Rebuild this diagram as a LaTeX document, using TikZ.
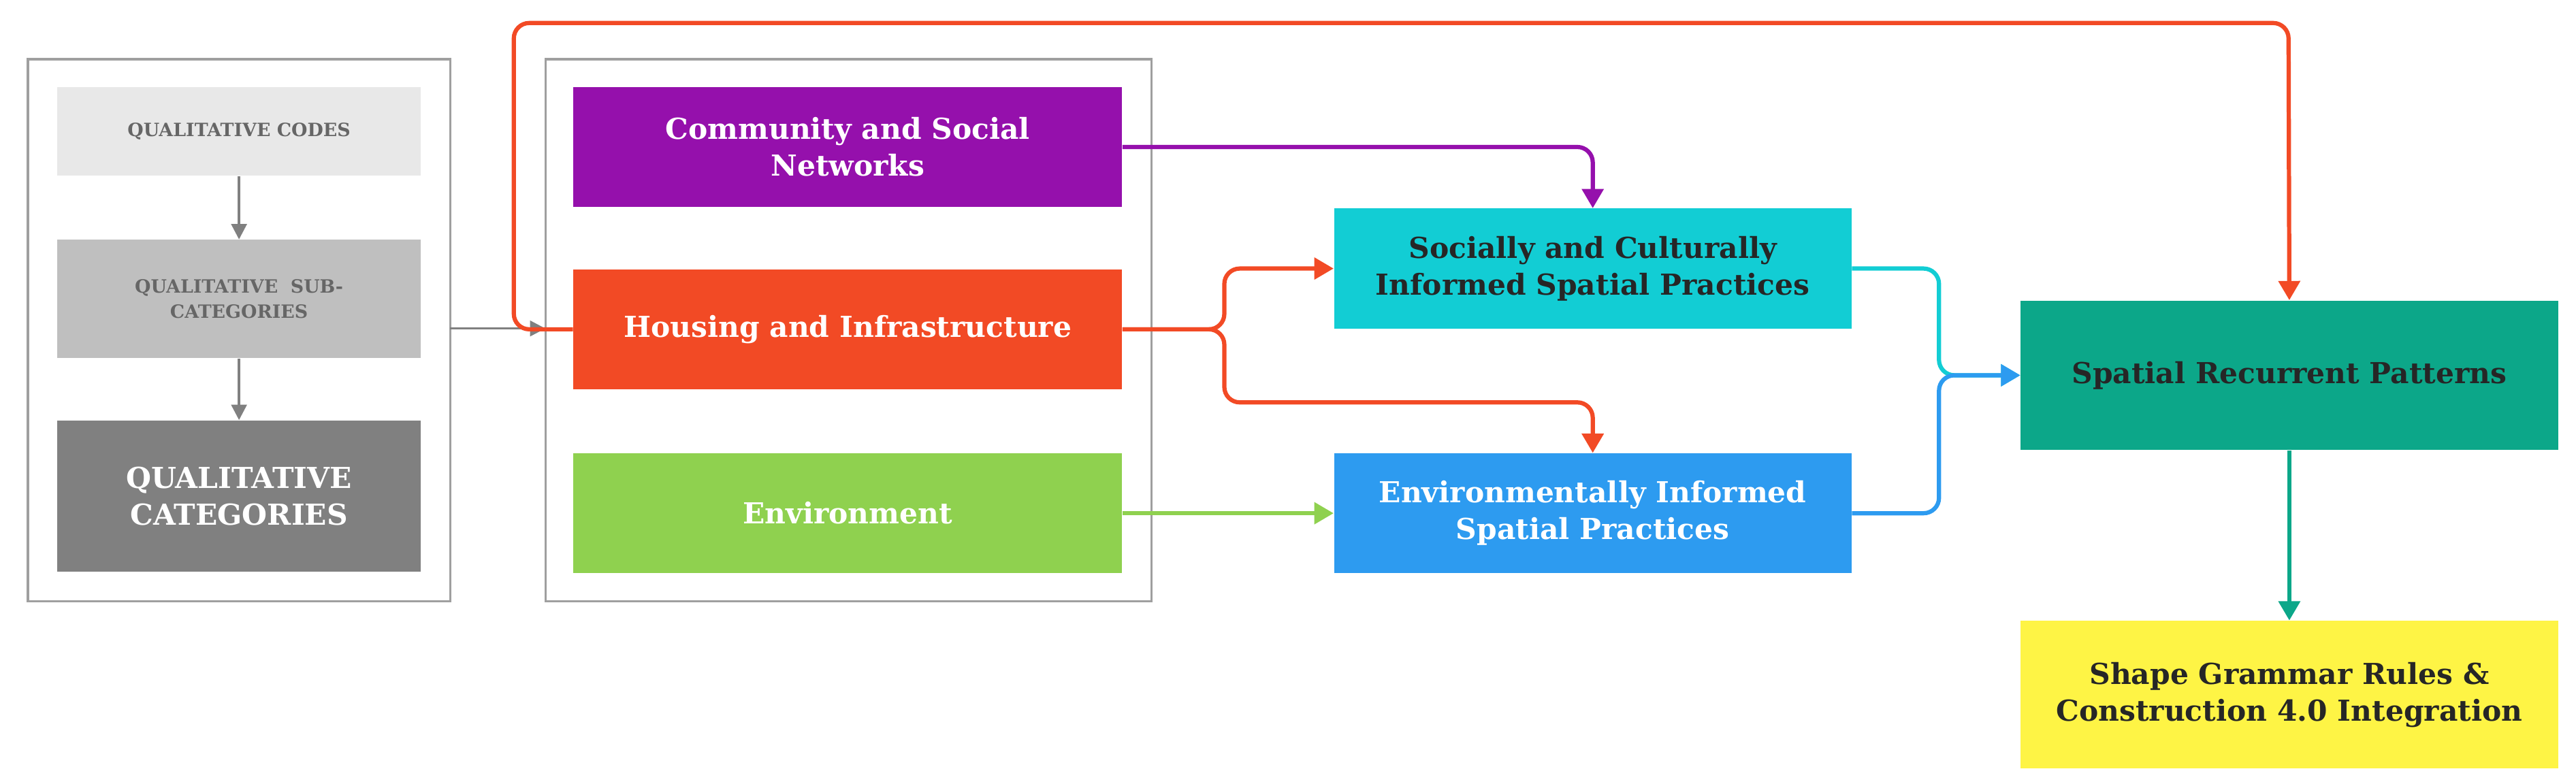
\documentclass[tikz,border=0pt]{standalone}
\usepackage{fontspec}
\setmainfont{DejaVu Serif}
\usetikzlibrary{arrows.meta}
\definecolor{cPurple}{HTML}{9510AC}
\definecolor{cOrange}{HTML}{F24A25}
\definecolor{cGreen}{HTML}{8FD14F}
\definecolor{cCyan}{HTML}{12CDD4}
\definecolor{cBlue}{HTML}{2D9BF0}
\definecolor{cTeal}{HTML}{0CA789}
\definecolor{cYellow}{HTML}{FEF445}
\tikzset{
  blk/.style={draw=none, align=center, inner sep=0pt, font=\bfseries\fontsize{15}{19}\selectfont},
  qual/.style={blk, minimum width=6.63cm, font=\bfseries\fontsize{9.5}{13}\selectfont},
  frame/.style={draw=gray!75, line width=1.2pt},
  link/.style={line width=2.2pt, rounded corners=8pt, -{Triangle[width=11pt,length=10pt]}},
}
\begin{document}
\begin{tikzpicture}[x=0.03cm, y=-0.03cm]
    \useasboundingbox (0,0) rectangle (1568,477);

    \draw [frame] (17,36) rectangle (274,366);
    \draw [frame] (332,36) rectangle (701,366);

    \node [qual, fill=gray!18, text=gray!80!black, minimum height=1.62cm] (codes) at (145.5,80) {QUALITATIVE CODES};
    \node [qual, fill=gray!50, text=gray!80!black, minimum height=2.16cm] (subcat) at (145.5,182) {QUALITATIVE\ \ SUB-\\CATEGORIES};
    \node [qual, fill=gray!105!black!55, fill=gray, text=white, minimum height=2.76cm, font=\bfseries\fontsize{15}{19}\selectfont] (cat) at (145.5,302) {QUALITATIVE\\CATEGORIES};
    \coordinate (leftbox) at (274,200);
    \coordinate (midbox) at (332,200);

    \node [blk, fill=cPurple, text=white, minimum width=10.02cm, minimum height=2.19cm] (community) at (516,89.5) {Community and Social\\Networks};
    \node [blk, fill=cOrange, text=white, minimum width=10.02cm, minimum height=2.19cm] (housing) at (516,200.5) {Housing and Infrastructure};
    \node [blk, fill=cGreen, text=white, minimum width=10.02cm, minimum height=2.19cm] (environment) at (516,312.5) {Environment};
    \node [blk, fill=cCyan, text=black!85, minimum width=9.45cm, minimum height=2.19cm] (social) at (969.5,163.5) {Socially and Culturally\\Informed Spatial Practices};
    \node [blk, fill=cBlue, text=white, minimum width=9.45cm, minimum height=2.19cm] (envprac) at (969.5,312.5) {Environmentally Informed\\Spatial Practices};
    \node [blk, fill=cTeal, text=black!85, minimum width=9.81cm, minimum height=2.73cm] (patterns) at (1393.5,228.5) {Spatial Recurrent Patterns};
    \node [blk, fill=cYellow, text=black!85, minimum width=9.81cm, minimum height=2.7cm] (grammar) at (1393.5,423) {Shape Grammar Rules \&\\Construction 4.0 Integration};

    % gray chain
    \draw [link, line width=1.3pt, draw=gray, -{Triangle[width=8pt,length=8pt]}] (codes) -- (subcat);
    \draw [link, line width=1.3pt, draw=gray, -{Triangle[width=8pt,length=8pt]}] (subcat) -- (cat);
    \draw [link, line width=1.3pt, draw=gray, -{Triangle[width=8pt,length=8pt]}] (leftbox) -- (midbox);

    % colored links
    \draw [link, draw=cOrange] (housing.west) -- ++(-36,0) |- (1393,14) -- (patterns.north);
    \draw [link, draw=cPurple] (community.east) -| (social.north);
    \draw [link, draw=cOrange] (housing.east) -- ++(62,0) |- (social.west);
    \draw [link, draw=cOrange] (housing.east) -- ++(62,0) |- (969.5,245) -- (envprac.north);
    \draw [link, draw=cGreen] (environment) -- (envprac);
    \draw [link, draw=cCyan] (social.east) -- ++(53,0) |- (patterns.west);
    \draw [link, draw=cBlue] (envprac.east) -- ++(53,0) |- (patterns.west);
    \draw [link, draw=cTeal] (patterns) -- (grammar);
  \end{tikzpicture}
\end{document}
